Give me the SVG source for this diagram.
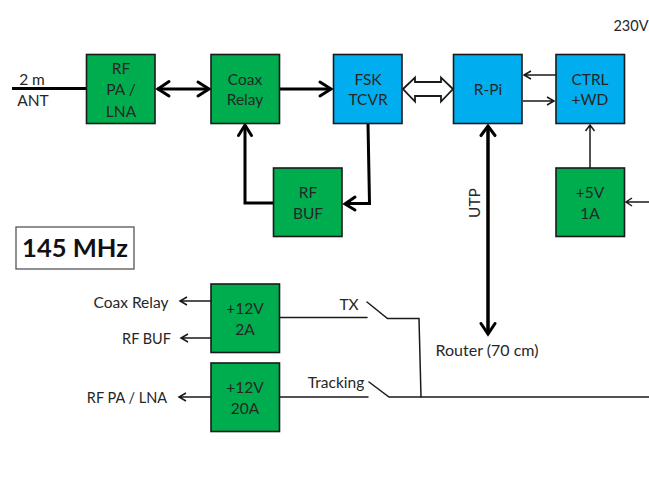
<svg xmlns="http://www.w3.org/2000/svg" width="649" height="489" viewBox="0 0 649 489">
<style>
text{font-family:Lato,"Liberation Sans",sans-serif;font-size:15.5px;fill:#262626;text-anchor:middle}
.g{fill:#00ad4e;stroke:#1a1a1a;stroke-width:1.6}
.b{fill:#00aeef;stroke:#1a1a1a;stroke-width:1.6}
.t{fill:none;stroke:#000;stroke-width:3}
.m{fill:none;stroke:#1a1a1a;stroke-width:1.5}
.h{fill:none;stroke:#000;stroke-width:3;stroke-linecap:round;stroke-linejoin:miter}
.s{fill:none;stroke:#1a1a1a;stroke-width:1.5;stroke-linecap:round}
</style>
<rect width="649" height="489" fill="#fff"/>
<g id="connectors">
<path class="t" d="M12 88.500H86"/>
<path class="t" d="M157 89H209"/>
<path class="h" d="M169 81.500L158 89L169 96M198 82L209 89L198 96"/>
<path class="t" d="M280 89H331"/>
<path class="h" d="M320 82L331 89L320 96"/>
<path class="t" d="M245 126V203H273"/>
<path class="h" d="M238.500 135.500L245 125L251.500 135.500"/>
<path class="t" d="M368 124L369.500 203.500H345"/>
<path class="h" d="M355 197L345 204L355 210"/>
<path d="M403 89L415 77.500V82H441V77.500L453 89L441 101.500V96H415V101.500Z" fill="#fff" stroke="#1a1a1a" stroke-width="1.800"/>
<path class="m" d="M556 75H524M531 71L524 75L531 79"/>
<path class="m" d="M523 101H554M547 97L554 101L547 105"/>
<path class="m" d="M590 168V125M585.500 131L590 125L594.500 131"/>
<path class="m" d="M649 202H626M632 198L626 202L632 206"/>
<path d="M488 126V334" fill="none" stroke="#000" stroke-width="3.500"/>
<path class="h" d="M481 135.500L488 126L495 135.500M481 323.500L488 334L495 323.500"/>
<path class="m" d="M211 301H180M187 297L180 301L187 305"/>
<path class="m" d="M213 338H181M188 334L181 338L188 342"/>
<path class="m" d="M211 397H179M186 393L179 397L186 401"/>
<path class="s" d="M280 317.500H367"/>
<path class="s" d="M367 302L387.500 318.500H419L421 397"/>
<path class="s" d="M280 397H368"/>
<path class="s" d="M369 382L389 397H649"/>
</g>
<g id="rfpa"><rect class="g" x="86.500" y="54.500" width="68.500" height="69"/><text x="121" y="74">RF</text><text x="121" y="95">PA /</text><text x="121" y="117">LNA</text></g>
<g id="coax"><rect class="g" x="211" y="54.500" width="68.500" height="69"/><text x="245" y="85">Coax</text><text x="245" y="105">Relay</text></g>
<g id="fsk"><rect class="b" x="333.500" y="54.500" width="68.500" height="69"/><text x="368" y="85">FSK</text><text x="368" y="105">TCVR</text></g>
<g id="rpi"><rect class="b" x="453.500" y="54.500" width="68.500" height="69"/><text x="488" y="95">R-Pi</text></g>
<g id="ctrl"><rect class="b" x="556" y="54.500" width="68.500" height="69"/><text x="590" y="85">CTRL</text><text x="590" y="105">+WD</text></g>
<g id="rfbuf"><rect class="g" x="273.500" y="168" width="68.500" height="68.500"/><text x="308" y="198">RF</text><text x="308" y="219">BUF</text></g>
<g id="psu5"><rect class="g" x="556" y="168" width="68.500" height="68.500"/><text x="590" y="198">+5V</text><text x="590" y="219">1A</text></g>
<g id="psu12a"><rect class="g" x="211" y="284" width="68.500" height="68.500"/><text x="245" y="314">+12V</text><text x="245" y="335">2A</text></g>
<g id="psu12b"><rect class="g" x="211" y="363" width="68.500" height="68.500"/><text x="245" y="393">+12V</text><text x="245" y="414">20A</text></g>
<g id="band"><rect x="16" y="227" width="118" height="42" fill="#fff" stroke="#555" stroke-width="1.300"/><text x="75" y="257" style="font-size:25.500px;font-weight:700;fill:#111">145 MHz</text></g>
<g id="labels">
<text x="32" y="85">2 m</text>
<text x="33" y="106">ANT</text>
<text x="648.500" y="31" style="text-anchor:end;font-size:14.500px">230V</text>
<text x="131" y="308">Coax Relay</text>
<text x="146.500" y="344" style="font-size:14.500px">RF BUF</text>
<text x="127" y="403" style="font-size:14.500px">RF PA / LNA</text>
<text x="349" y="310">TX</text>
<text x="336" y="388">Tracking</text>
<text x="487" y="356" style="font-size:16px">Router (70 cm)</text>
<text transform="translate(480 203) rotate(-90)">UTP</text>
</g>
</svg>
